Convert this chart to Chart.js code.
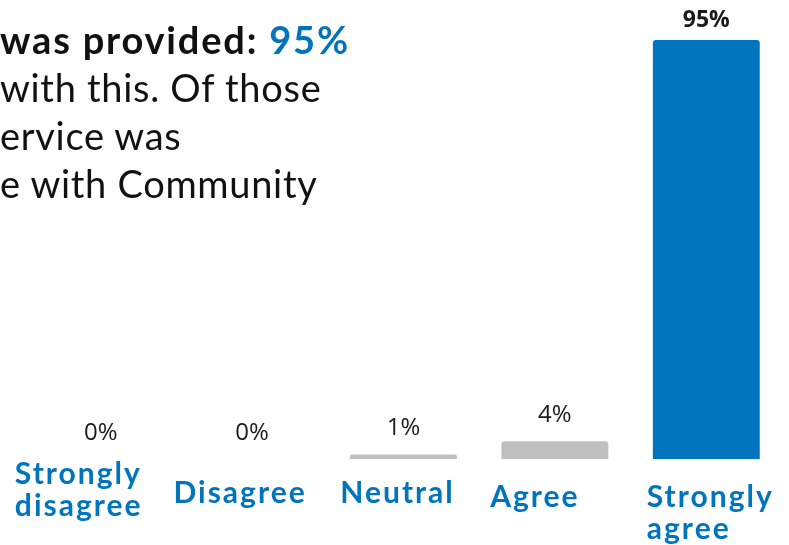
<!DOCTYPE html>
<html>
<head>
<meta charset="utf-8">
<script src="https://cdn.jsdelivr.net/npm/chart.js@4/dist/chart.umd.min.js"></script>
<style>
  html, body { margin: 0; padding: 0; background: #fff; }
  #wrap { position: relative; width: 789px; height: 545px; overflow: hidden; }
  #chart { position: absolute; left: 0; top: 0; }
  .intro {
    position: absolute; left: 0; top: 15px; margin: 0;
    font-family: Lato, "Open Sans", sans-serif; font-size: 38px;
    line-height: 48px; color: #111; white-space: nowrap; letter-spacing: 0.7px;
  }
  .intro b { font-weight: 700; letter-spacing: 1.8px; }
  .intro .hl { color: #0075BD; }
</style>
</head>
<body>
<div id="wrap">
  <canvas id="chart" width="789" height="545"></canvas>
  <p class="intro"><b>was provided: <span class="hl">95%</span></b><br>with this. Of those<br>ervice was<br>e with Community</p>
</div>
<script>
// Satisfaction responses (share of respondents, %)
const CATEGORIES = [['Strongly', 'disagree'], ['Disagree'], ['Neutral'], ['Agree'], ['Strongly', 'agree']];
const VALUES = [0, 0, 1, 4, 95];
const VALUE_LABELS = ['0%', '0%', '1%', '4%', '95%'];

const BLUE = '#0075BD';
const GREY = '#BFBFBF';

// per-category nudges for the axis captions (dx, dy from the bar centre / baseline)
const CAPTION_NUDGE = [[-22, 15], [-12, 34], [-6, 34], [-20, 38], [4, 38]];

const valueLabels = {
    id: 'valueLabels',
    afterDatasetsDraw(chart) {
        const { ctx } = chart;
        const meta = chart.getDatasetMeta(0);
        ctx.save();
        ctx.textAlign = 'center';
        ctx.textBaseline = 'middle';
        meta.data.forEach((bar, i) => {
            const top = VALUES[i] === Math.max(...VALUES);
            ctx.fillStyle = '#1a1a1a';
            ctx.font = top ? 'bold 23px "Open Sans", sans-serif' : '24px "Open Sans", sans-serif';
            ctx.fillText(VALUE_LABELS[i], bar.x, bar.y - (top ? 20 : 26));
        });
        ctx.restore();
    }
};

const captions = {
    id: 'captions',
    afterDraw(chart) {
        const { ctx, chartArea } = chart;
        const meta = chart.getDatasetMeta(0);
        ctx.save();
        ctx.fillStyle = BLUE;
        ctx.font = 'bold 30px Lato, sans-serif';
        ctx.letterSpacing = '2px';
        ctx.textBaseline = 'middle';
        ctx.textAlign = 'left';
        meta.data.forEach((bar, i) => {
            const lines = CATEGORIES[i];
            const w = Math.max(...lines.map(l => ctx.measureText(l).width));
            const [dx, dy] = CAPTION_NUDGE[i];
            const left = bar.x + dx - w / 2;
            lines.forEach((l, j) => ctx.fillText(l, left, chartArea.bottom + dy + j * 32));
        });
        ctx.restore();
    }
};

new Chart(document.getElementById('chart').getContext('2d'), {
    type: 'bar',
    data: {
        labels: CATEGORIES,
        datasets: [{
            data: VALUES,
            backgroundColor: VALUES.map(v => v === Math.max(...VALUES) ? BLUE : GREY),
            borderRadius: 3,
            borderSkipped: 'bottom',
            barPercentage: 0.706,
            categoryPercentage: 1
        }]
    },
    options: {
        responsive: false,
        animation: false,
        layout: { padding: { left: 25, right: 7, top: 40, bottom: 86 } },
        plugins: { legend: { display: false }, tooltip: { enabled: false } },
        scales: {
            x: { display: false },
            y: { display: false, min: 0, max: 95 }
        }
    },
    plugins: [valueLabels, captions]
});
</script>
</body>
</html>
